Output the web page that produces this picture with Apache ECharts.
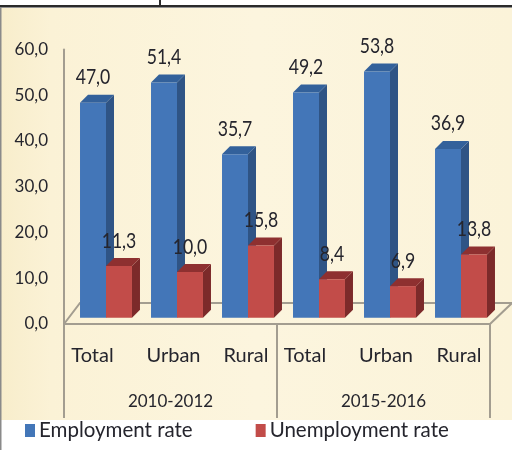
<!DOCTYPE html>
<html>
<head>
<meta charset="utf-8">
<style>html,body{margin:0;padding:0;background:#fff}#c{width:512px;height:450px}</style>
<script src="https://cdn.jsdelivr.net/npm/echarts@6/dist/echarts.min.js"></script>
</head>
<body>
<div id="c"></div>
<script>
const categories = ['Total', 'Urban', 'Rural', 'Total', 'Urban', 'Rural'];
const periods = ['2010-2012', '2015-2016'];
const employment = [47.0, 51.4, 35.7, 49.2, 53.8, 36.9];
const unemployment = [11.3, 10.0, 15.8, 8.4, 6.9, 13.8];
const labelShift = [-7, 3, 4.5, -7.5, 2.5, 4.5];

const TEXT = '"Lato",sans-serif';
const INK = '#25252d';
const fmt = v => v.toFixed(1).replace('.', ',');

function bar3d(name, values, colors, side) {
  return {
    type: 'custom',
    name,
    data: values.map((v, i) => [i, v]),
    encode: { x: 0, y: 1 },
    itemStyle: { color: colors.front },
    clip: false,
    renderItem(params, api) {
      const i = api.value(0), v = api.value(1);
      const base = api.coord([i, 0]), top = api.coord([i, v]);
      const band = api.size([1, 0])[0];
      const w = band * 0.366, d = 8, sx = 6.5, sy = -6.3;
      const x0 = base[0] + sx + (side < 0 ? -w : 0), x1 = x0 + w;
      const yb = base[1] + sy, yt = top[1] + sy;
      return {
        type: 'group',
        children: [
          { type: 'polygon', shape: { points: [[x1, yb], [x1 + d, yb - d], [x1 + d, yt - d], [x1, yt]] }, style: { fill: colors.side } },
          { type: 'polygon', shape: { points: [[x0, yt], [x1, yt], [x1 + d, yt - d], [x0 + d, yt - d]] }, style: { fill: colors.top } },
          { type: 'rect', shape: { x: x0, y: yt, width: w, height: yb - yt }, style: { fill: colors.front } },
          { type: 'text', z2: 10, x: (x0 + x1) / 2, y: yt - 25, scaleX: 0.86, style: { text: fmt(v), x: 0, y: 0, align: 'center', verticalAlign: 'middle', fill: INK, font: '20.5px ' + TEXT } }
        ]
      };
    }
  };
}

const chart = echarts.init(document.getElementById('c'), null, { renderer: 'canvas' });
chart.setOption({
  animation: false,
  backgroundColor: '#ffffff',
  graphic: [
    { type: 'rect', z: -10, shape: { x: 0, y: 8, width: 512, height: 412 },
      style: { fill: { type: 'linear', x: 0, y: 0, x2: 1, y2: 0, colorStops: [
        { offset: 0, color: '#f8edcb' }, { offset: 0.1, color: '#fbf2d6' }, { offset: 0.5, color: '#fcf5de' }, { offset: 1, color: '#fbf3d9' }
      ] } } },
    { type: 'rect', z: -9, shape: { x: 0, y: 5, width: 512, height: 2.5 }, style: { fill: '#2a2a2a' } },
    { type: 'rect', z: -9, shape: { x: 159, y: 0, width: 2, height: 6 }, style: { fill: '#2a2a2a' } },
    { type: 'rect', z: -9, shape: { x: 0, y: 7, width: 1.5, height: 443 }, style: { fill: '#8a8a8a' } },
    { type: 'polyline', z: -8, shape: { points: [[64, 324], [80, 303], [512, 303]] }, style: { fill: null, stroke: '#a39d90', lineWidth: 2 } },
    { type: 'line', z: -8, shape: { x1: 490, y1: 324, x2: 512, y2: 303 }, style: { stroke: '#a39d90', lineWidth: 2 } }
  ],
  grid: { left: 64, top: 49.5, width: 426, height: 274.5, containLabel: false },
  legend: {
    left: 25, top: 420, padding: 0, itemWidth: 10, itemHeight: 13, itemGap: 63, icon: 'rect',
    textStyle: { fontFamily: TEXT, fontSize: 20.5, color: INK, padding: [0, 0, 0, -1] },
    data: ['Employment rate', 'Unemployment rate']
  },
  xAxis: [
    {
      type: 'category', position: 'bottom',
      data: categories.map((c, i) => {
        const s = labelShift[i];
        return { value: c, textStyle: { padding: s < 0 ? [0, -2 * s, 0, 0] : [0, 0, 0, 2 * s] } };
      }),
      axisLine: { show: true, lineStyle: { color: '#a39d90', width: 2 } },
      axisTick: { show: false },
      axisLabel: { interval: 0, margin: 22, fontFamily: TEXT, fontSize: 20, color: INK }
    },
    {
      type: 'category', position: 'bottom',
      data: periods,
      axisLine: { show: true, lineStyle: { color: '#a39d90', width: 2 } },
      axisTick: { show: true, length: 94, lineStyle: { color: '#a39d90', width: 2 } },
      axisLabel: { interval: 0, margin: 69, fontFamily: TEXT, fontSize: 17, color: INK }
    }
  ],
  yAxis: {
    type: 'value', min: 0, max: 60, interval: 10,
    axisLine: { show: true, lineStyle: { color: '#a39d90', width: 2 } },
    axisTick: { show: false },
    splitLine: { show: false },
    axisLabel: { margin: 16, formatter: fmt, fontFamily: TEXT, fontSize: 17, color: INK }
  },
  series: [
    bar3d('Employment rate', employment, { front: '#4376b8', side: '#2f5485', top: '#33619b' }, -1),
    bar3d('Unemployment rate', unemployment, { front: '#c24c49', side: '#7c2a2a', top: '#8e3030' }, 1)
  ]
});
</script>
</body>
</html>
